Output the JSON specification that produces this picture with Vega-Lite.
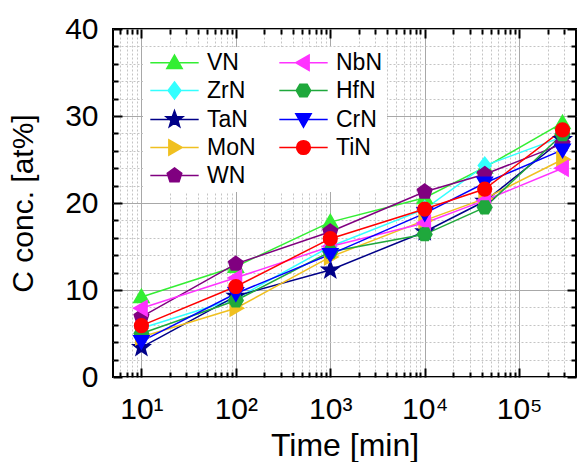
{
  "$schema": "https://vega.github.io/schema/vega-lite/v6.json",
  "width": 463,
  "height": 348,
  "autosize": "none",
  "padding": {"left": 113, "top": 29, "right": 7, "bottom": 85},
  "background": "white",
  "config": {
    "view": {"stroke": "black", "strokeWidth": 2},
    "font": "Liberation Sans",
    "legend": {
      "title": null,
      "orient": "none",
      "legendX": 30,
      "legendY": 18,
      "columns": 2,
      "columnPadding": 20,
      "rowPadding": 4,
      "fillColor": "white",
      "padding": 4,
      "symbolSize": 260,
      "symbolStrokeWidth": 1.5,
      "symbolOffset": 16,
      "labelOffset": 21,
      "labelAlign": "left",
      "labelFontSize": 23,
      "labelColor": "black",
      "labelLimit": 0
    }
  },
  "data": {
    "values": [
      {"m": "VN", "t": 10, "c": 9.2}, {"m": "VN", "t": 100, "c": 12.7}, {"m": "VN", "t": 1000, "c": 17.8}, {"m": "VN", "t": 10000, "c": 20.6}, {"m": "VN", "t": 43200, "c": 24.1}, {"m": "VN", "t": 288000, "c": 29.2},
      {"m": "ZrN", "t": 10, "c": 5.6}, {"m": "ZrN", "t": 100, "c": 9.0}, {"m": "ZrN", "t": 1000, "c": 15.0}, {"m": "ZrN", "t": 10000, "c": 19.3}, {"m": "ZrN", "t": 43200, "c": 24.3}, {"m": "ZrN", "t": 288000, "c": 27.6},
      {"m": "TaN", "t": 10, "c": 3.4}, {"m": "TaN", "t": 100, "c": 9.3}, {"m": "TaN", "t": 1000, "c": 12.3}, {"m": "TaN", "t": 10000, "c": 16.7}, {"m": "TaN", "t": 43200, "c": 20.2}, {"m": "TaN", "t": 288000, "c": 27.3},
      {"m": "MoN", "t": 10, "c": 4.6}, {"m": "MoN", "t": 100, "c": 7.9}, {"m": "MoN", "t": 1000, "c": 13.8}, {"m": "MoN", "t": 10000, "c": 18.0}, {"m": "MoN", "t": 43200, "c": 20.5}, {"m": "MoN", "t": 288000, "c": 25.0},
      {"m": "WN", "t": 10, "c": 6.9}, {"m": "WN", "t": 100, "c": 13.0}, {"m": "WN", "t": 1000, "c": 16.7}, {"m": "WN", "t": 10000, "c": 21.3}, {"m": "WN", "t": 43200, "c": 23.3}, {"m": "WN", "t": 288000, "c": 26.8},
      {"m": "NbN", "t": 10, "c": 7.9}, {"m": "NbN", "t": 100, "c": 11.4}, {"m": "NbN", "t": 1000, "c": 15.0}, {"m": "NbN", "t": 10000, "c": 17.7}, {"m": "NbN", "t": 43200, "c": 20.3}, {"m": "NbN", "t": 288000, "c": 24.0},
      {"m": "HfN", "t": 10, "c": 5.0}, {"m": "HfN", "t": 100, "c": 8.8}, {"m": "HfN", "t": 1000, "c": 14.4}, {"m": "HfN", "t": 10000, "c": 16.4}, {"m": "HfN", "t": 43200, "c": 19.5}, {"m": "HfN", "t": 288000, "c": 27.9},
      {"m": "CrN", "t": 10, "c": 4.1}, {"m": "CrN", "t": 100, "c": 9.6}, {"m": "CrN", "t": 1000, "c": 14.1}, {"m": "CrN", "t": 10000, "c": 18.8}, {"m": "CrN", "t": 43200, "c": 22.3}, {"m": "CrN", "t": 288000, "c": 26.1},
      {"m": "TiN", "t": 10, "c": 5.9}, {"m": "TiN", "t": 100, "c": 10.4}, {"m": "TiN", "t": 1000, "c": 15.9}, {"m": "TiN", "t": 10000, "c": 19.3}, {"m": "TiN", "t": 43200, "c": 21.6}, {"m": "TiN", "t": 288000, "c": 28.4}
    ]
  },
  "layer": [
    {
      "mark": {"type": "line", "strokeWidth": 1.5},
      "encoding": {
        "x": {
          "field": "t", "type": "quantitative",
          "scale": {"type": "log", "domain": [5, 400000], "nice": false},
          "axis": {
            "orient": "bottom",
            "offset": -9,
            "domain": false,
            "values": [6,7,8,9,10,20,30,40,50,60,70,80,90,100,200,300,400,500,600,700,800,900,1000,2000,3000,4000,5000,6000,7000,8000,9000,10000,20000,30000,40000,50000,60000,70000,80000,90000,100000,200000,300000],
            "labelExpr": "abs(log(datum.value)/LN10 - round(log(datum.value)/LN10)) < 0.001 ? '10' + ['⁰','¹','²','³','⁴','⁵','⁶'][round(log(datum.value)/LN10)] : ''",
            "labelOverlap": false,
            "labelFlush": false,
            "labelFontSize": 30,
            "labelColor": "black",
            "labelPadding": 17,
            "grid": true,
            "gridColor": {"condition": {"test": "abs(log(datum.value)/LN10 - round(log(datum.value)/LN10)) < 0.001", "value": "#a8a8a8"}, "value": "#c4c4c4"},
            "gridDash": {"condition": {"test": "abs(log(datum.value)/LN10 - round(log(datum.value)/LN10)) < 0.001", "value": []}, "value": [2, 2]},
            "gridWidth": 1,
            "ticks": true,
            "tickColor": "black",
            "tickWidth": 2,
            "tickSize": 9,
            "tickDash": {"condition": {"test": "abs(log(datum.value)/LN10 - round(log(datum.value)/LN10)) < 0.001", "value": []}, "value": [0, 4, 5, 30]},
            "title": "Time [min]",
            "titleFontSize": 32,
            "titleFontWeight": "normal",
            "titleColor": "black",
            "titlePadding": 6
          }
        },
        "y": {
          "field": "c", "type": "quantitative",
          "scale": {"domain": [0, 40], "nice": false, "zero": false},
          "axis": {
            "orient": "left",
            "offset": -9,
            "domain": false,
            "values": [0,2,4,6,8,10,12,14,16,18,20,22,24,26,28,30,32,34,36,38,40],
            "labelExpr": "datum.value % 10 == 0 ? datum.label : ''",
            "labelOverlap": false,
            "labelFlush": false,
            "labelFontSize": 30,
            "labelColor": "black",
            "labelPadding": 15,
            "grid": true,
            "gridColor": {"condition": {"test": "datum.value % 10 == 0", "value": "#a8a8a8"}, "value": "#c4c4c4"},
            "gridDash": {"condition": {"test": "datum.value % 10 == 0", "value": []}, "value": [2, 2]},
            "gridWidth": 1,
            "tickColor": "black",
            "tickWidth": 2,
            "tickSize": 9,
            "tickDash": {"condition": {"test": "datum.value % 10 == 0", "value": []}, "value": [0, 4, 5, 30]},
            "title": "C conc. [at%]",
            "titleFontSize": 30,
            "titleFontWeight": "normal",
            "titleColor": "black",
            "titlePadding": 26
          }
        },
        "stroke": {
          "field": "m", "type": "nominal",
          "scale": {
            "domain": ["VN", "ZrN", "TaN", "MoN", "WN", "NbN", "HfN", "CrN", "TiN"],
            "range": ["#33ee33", "#33ffff", "#000088", "#f0c020", "#800080", "#ff33ff", "#1fa83c", "#0000ff", "#ff0000"]
          },
          "legend": {
            "encode": {
              "symbols": {
                "update": {
                  "shape": {"signal": "'M-3,0H3' + scale('shape', datum.value)"}
                }
              }
            }
          }
        }
      }
    },
    {
      "mark": {"type": "point", "filled": false, "size": 260, "opacity": 1, "strokeWidth": 1.5},
      "encoding": {
        "x": {"field": "t", "type": "quantitative", "scale": {"type": "log", "domain": [5, 400000], "nice": false}, "axis": null},
        "y": {"field": "c", "type": "quantitative", "scale": {"domain": [0, 40], "nice": false, "zero": false}, "axis": null},
        "stroke": {
          "field": "m", "type": "nominal",
          "legend": {
            "encode": {
              "symbols": {
                "update": {
                  "shape": {"signal": "'M-3,0H3' + scale('shape', datum.value)"}
                }
              }
            }
          }
        },
        "fill": {
          "field": "m", "type": "nominal",
          "scale": {
            "domain": ["VN", "ZrN", "TaN", "MoN", "WN", "NbN", "HfN", "CrN", "TiN"],
            "range": ["#33ee33", "#33ffff", "#000088", "#f0c020", "#800080", "#ff33ff", "#1fa83c", "#0000ff", "#ff0000"]
          },
          "legend": {
            "encode": {
              "symbols": {
                "update": {
                  "shape": {"signal": "'M-3,0H3' + scale('shape', datum.value)"}
                }
              }
            }
          }
        },
        "shape": {
          "field": "m", "type": "nominal",
          "scale": {
            "domain": ["TiN", "VN", "ZrN", "TaN", "MoN", "WN", "NbN", "HfN", "CrN"],
            "range": [
              "M-0.85,0A0.85,0.85,0,1,1,0.85,0A0.85,0.85,0,1,1,-0.85,0Z",
              "M0,-0.95L0.95,0.7L-0.95,0.7Z",
              "M0,-1.05L0.8,0L0,1.05L-0.8,0Z",
              "M0,-1.1L0.265,-0.364L1.046,-0.34L0.428,0.139L0.647,0.89L0,0.45L-0.647,0.89L-0.428,0.139L-1.046,-0.34L-0.265,-0.364Z",
              "M0.95,0L-0.7,-0.95L-0.7,0.95Z",
              "M0,-0.95L0.9,-0.29L0.56,0.77L-0.56,0.77L-0.9,-0.29Z",
              "M-0.95,0L0.7,-0.95L0.7,0.95Z",
              "M0.9,0L0.45,-0.78L-0.45,-0.78L-0.9,0L-0.45,0.78L0.45,0.78Z",
              "M0,0.95L0.95,-0.7L-0.95,-0.7Z"
            ]
          },
          "legend": null
        }
      }
    },
    {
      "mark": {"type": "point", "opacity": 0},
      "encoding": {
        "x": {
          "field": "t", "type": "quantitative",
          "scale": {"type": "log", "domain": [5, 400000], "nice": false},
          "axis": {
            "orient": "top",
            "offset": -9,
            "domain": false,
            "values": [6,7,8,9,10,20,30,40,50,60,70,80,90,100,200,300,400,500,600,700,800,900,1000,2000,3000,4000,5000,6000,7000,8000,9000,10000,20000,30000,40000,50000,60000,70000,80000,90000,100000,200000,300000],
            "labels": false,
            "grid": false,
            "tickColor": "black",
            "tickWidth": 2,
            "tickSize": 9,
            "tickDash": {"condition": {"test": "abs(log(datum.value)/LN10 - round(log(datum.value)/LN10)) < 0.001", "value": []}, "value": [0, 4, 5, 30]},
            "title": null
          }
        },
        "y": {
          "field": "c", "type": "quantitative",
          "scale": {"domain": [0, 40], "nice": false, "zero": false},
          "axis": {
            "orient": "right",
            "offset": -9,
            "domain": false,
            "values": [0,2,4,6,8,10,12,14,16,18,20,22,24,26,28,30,32,34,36,38,40],
            "labels": false,
            "grid": false,
            "tickColor": "black",
            "tickWidth": 2,
            "tickSize": 9,
            "tickDash": {"condition": {"test": "datum.value % 10 == 0", "value": []}, "value": [0, 4, 5, 30]},
            "title": null
          }
        }
      }
    }
  ],
  "resolve": {"axis": {"x": "independent", "y": "independent"}}
}
